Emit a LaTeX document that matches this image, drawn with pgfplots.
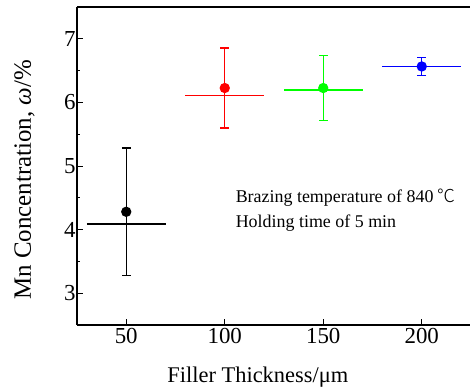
\documentclass[border=0pt]{standalone}
\usepackage{pgfplots}
\pgfplotsset{compat=1.18}
\usepackage{fontspec}
\setmainfont{Liberation Serif}
\newfontfamily\cjk{Noto Sans CJK SC Light}
\newcommand{\tl}[1]{\fontsize{23}{26}\selectfont #1}
\usetikzlibrary{calc}
\begin{document}
\begin{tikzpicture}
\begin{axis}[
  scale only axis,
  width=394bp, height=318bp,
  xmin=25, xmax=225, ymin=2.5, ymax=7.5,
  axis x line*=box, axis y line*=left,
  xtick={50,100,150,200}, ytick={3,4,5,6,7},
  xticklabels={\tl{50},\tl{100},\tl{150},\tl{200}},
  yticklabels={\tl{3},\tl{4},\tl{5},\tl{6},\tl{7}},
  minor y tick num=1,
  xtick pos=left, ytick pos=left,
  tick align=inside,
  major tick length=6bp, minor tick length=3.5bp,
  every tick/.style={black, line width=1pt},
  axis line style={line width=1.3pt},
  yticklabel style={xshift=2bp},
  xlabel={Filler Thickness/μm},
  ylabel={Mn Concentration, \textit{ω}/\%},
  xlabel style={font=\fontsize{22.5}{26}\selectfont, at={(axis description cs:0.459,-0.12)}, anchor=north},
  ylabel style={font=\fontsize{25}{28}\selectfont, at={(axis description cs:-0.133,0.456)}, anchor=center},
  clip=false,
]
% horizontal bars
\addplot[black, line width=1.3pt] coordinates {(30,4.09) (70,4.09)};
\addplot[red, line width=1.3pt] coordinates {(80,6.11) (120,6.11)};
\addplot[green, line width=1.3pt] coordinates {(130,6.195) (170,6.195)};
\addplot[blue, line width=1.3pt] coordinates {(180,6.56) (220,6.56)};
% points with vertical error bars
\addplot[black, line width=1.3pt, only marks, mark=*, mark size=4.5pt,
  error bars/.cd, y dir=both, y explicit,
  error bar style={line width=1.3pt},
  error mark options={rotate=90, mark size=4.5pt, line width=1.3pt}]
  coordinates {(50,4.28) +- (0,1.005)};
\addplot[red, line width=1.3pt, only marks, mark=*, mark size=4.5pt,
  error bars/.cd, y dir=both, y explicit,
  error bar style={line width=1.3pt},
  error mark options={rotate=90, mark size=4.5pt, line width=1.3pt}]
  coordinates {(100,6.226) +- (0,0.63)};
\addplot[green, line width=1.3pt, only marks, mark=*, mark size=4.5pt,
  error bars/.cd, y dir=both, y explicit,
  error bar style={line width=1.3pt},
  error mark options={rotate=90, mark size=4.5pt, line width=1.3pt}]
  coordinates {(150,6.226) +- (0,0.515)};
\addplot[blue, line width=1.3pt, only marks, mark=*, mark size=4.5pt,
  error bars/.cd, y dir=both, y explicit,
  error bar style={line width=1.3pt},
  error mark options={rotate=90, mark size=4.5pt, line width=1.3pt}]
  coordinates {(200,6.565) +- (0,0.14)};
\node[anchor=west, align=left, inner sep=0pt, font=\fontsize{18}{25}\selectfont]
  at (axis cs:105.5,4.30) {Brazing temperature of 840 {\cjk ℃}\\Holding time of 5 min};
\end{axis}
\pgfresetboundingbox
\path[use as bounding box] ($(current axis.south west)+(-77bp,-67bp)$) rectangle ++(470bp,392bp);
\end{tikzpicture}
\end{document}
